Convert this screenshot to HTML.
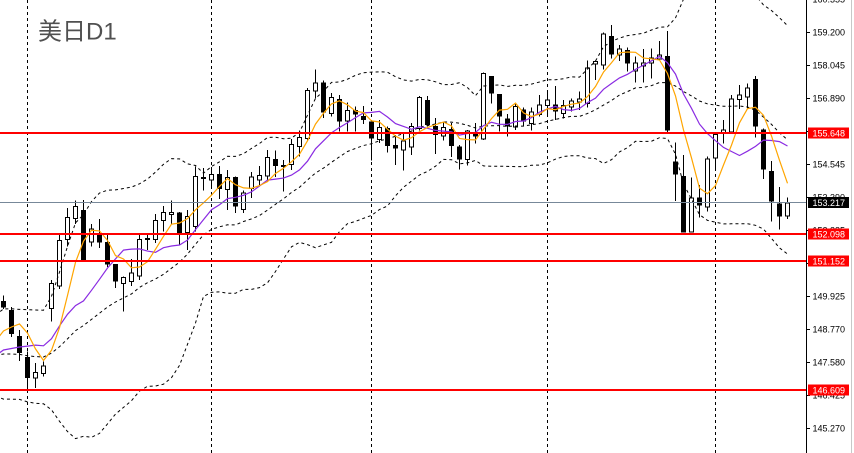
<!DOCTYPE html>
<html><head><meta charset="utf-8">
<style>
html,body{margin:0;padding:0;background:#fff;}
body{width:854px;height:453px;overflow:hidden;position:relative;}
svg{position:absolute;left:0;top:0;}
.ax{font-family:"Liberation Sans",sans-serif;font-size:9px;fill:#000;}
.lb{font-family:"Liberation Sans",sans-serif;font-size:9px;fill:#fff;}
.ttl{font-family:"Liberation Sans","Noto Sans CJK SC",sans-serif;font-size:24px;fill:#505050;}
</style></head><body>
<svg id="c" width="854" height="453" viewBox="0 0 854 453" xmlns="http://www.w3.org/2000/svg">
<defs><clipPath id="clp"><rect x="0" y="0" width="806" height="453"/></clipPath></defs>
<rect x="0" y="0" width="854" height="453" fill="#fff"/>
<g stroke="#000" stroke-width="1" stroke-dasharray="3,3">
<line x1="27.5" y1="0" x2="27.5" y2="453"/>
<line x1="211.5" y1="0" x2="211.5" y2="453"/>
<line x1="371.5" y1="0" x2="371.5" y2="453"/>
<line x1="547.5" y1="0" x2="547.5" y2="453"/>
<line x1="715.5" y1="0" x2="715.5" y2="453"/>
</g>
<g id="candles" shape-rendering="crispEdges"></g>
<g id="ind" fill="none" clip-path="url(#clp)"></g>
<rect x="0" y="202" width="806" height="1" fill="#778899"/>
<rect x="0" y="132" width="806" height="2" fill="#ff0000"/>
<rect x="0" y="233" width="806" height="2" fill="#ff0000"/>
<rect x="0" y="260" width="806" height="2" fill="#ff0000"/>
<rect x="0" y="389" width="806" height="2" fill="#ff0000"/>
<text class="ttl" x="38" y="39.5">美日D1</text>
<rect x="806" y="0" width="1" height="453" fill="#000"/>
<rect x="851" y="0" width="1" height="453" fill="#c8c8c8"/>
<g stroke="#000" stroke-width="1" shape-rendering="crispEdges">
<line x1="806" y1="32.5" x2="810" y2="32.5"/>
<line x1="806" y1="65.5" x2="810" y2="65.5"/>
<line x1="806" y1="98.5" x2="810" y2="98.5"/>
<line x1="806" y1="131.5" x2="810" y2="131.5"/>
<line x1="806" y1="164.5" x2="810" y2="164.5"/>
<line x1="806" y1="197.5" x2="810" y2="197.5"/>
<line x1="806" y1="230.5" x2="810" y2="230.5"/>
<line x1="806" y1="263.5" x2="810" y2="263.5"/>
<line x1="806" y1="296.5" x2="810" y2="296.5"/>
<line x1="806" y1="329.5" x2="810" y2="329.5"/>
<line x1="806" y1="362.5" x2="810" y2="362.5"/>
<line x1="806" y1="395.5" x2="810" y2="395.5"/>
<line x1="806" y1="428.5" x2="810" y2="428.5"/>
</g>
<text class="ax" x="812.5" y="2.5">160.355</text>
<text class="ax" x="812.5" y="35.5">159.200</text>
<text class="ax" x="812.5" y="68.5">158.045</text>
<text class="ax" x="812.5" y="101.5">156.890</text>
<text class="ax" x="812.5" y="134.5">155.735</text>
<text class="ax" x="812.5" y="167.5">154.545</text>
<text class="ax" x="812.5" y="200.5">153.390</text>
<text class="ax" x="812.5" y="233.5">152.235</text>
<text class="ax" x="812.5" y="266.5">151.080</text>
<text class="ax" x="812.5" y="299.5">149.925</text>
<text class="ax" x="812.5" y="332.5">148.770</text>
<text class="ax" x="812.5" y="365.5">147.580</text>
<text class="ax" x="812.5" y="398.5">146.425</text>
<text class="ax" x="812.5" y="431.5">145.270</text>
<rect x="808" y="127.5" width="41" height="11" fill="#ff0000"/>
<text class="lb" x="812.5" y="136.3">155.648</text>
<rect x="808" y="197" width="41" height="11" fill="#000"/>
<text class="lb" x="812.5" y="205.8">153.217</text>
<rect x="808" y="228.5" width="41" height="11" fill="#ff0000"/>
<text class="lb" x="812.5" y="237.3">152.098</text>
<rect x="808" y="255.5" width="41" height="11" fill="#ff0000"/>
<text class="lb" x="812.5" y="264.3">151.152</text>
<rect x="808" y="384.5" width="41" height="11" fill="#ff0000"/>
<text class="lb" x="812.5" y="393.3">146.609</text>
</svg>
<script>
(function(){
var NS="http://www.w3.org/2000/svg";
// type: 1 white, 0 black, 2 doji ; bodyTop, bodyBot, wickTop, wickBot
var D=[
[0,301,307.7,295.7,309],[0,310,334,307,337],[0,336,353,330,361],[0,357,378,351.7,389],
[1,372,378.7,363,388],[1,365.7,374,361.7,376.7],[1,283,309,280,321.7],[1,240,286.7,233,289],
[1,217,240,208,246.7],[1,206,219,200.7,224],[0,210,260,200,260],[1,228.7,242.7,224,246.7],
[0,233,242.7,219,248],[0,242,264.7,233,267],[0,264,281.7,264,288],[1,277,284,276.7,311.7],
[1,272.7,282,259,286],[1,239,276.7,233,280],[2,238,240,233,250],[1,220,240,214,243],
[1,212,221,206,231.7],[1,212,215,200.7,224],[0,212.7,233,212,245],[1,216,233,210,250],
[1,176,227,166.7,231.7],[2,177,179,168,190.7],[1,174,180.7,167,189],[0,174,189,166,199],
[1,177,190,170,210],[0,177,206.7,176.7,213],[1,192.7,210,190.7,213],[1,176.7,189,172,198],
[1,175,180.7,166,186.7],[1,157,176.7,150,181.7],[0,159,166,150.7,177],[0,165,167,160,191.7],
[1,144,165,139,170],[1,137,147,130.7,156.7],[1,90,139,88,140.7],[1,82.7,91.7,69.3,98.3],
[0,82.7,112.7,80.7,118],[1,97,114,93,116.7],[0,99,121.7,95,131.7],[1,110,121.7,102.7,131.7],
[0,110,114.3,106.7,131.7],[0,116,120,106,124],[0,121.7,138.7,121.7,160.7],[1,127,140,120,143],
[0,128,146,126.7,152.7],[0,145,148.7,135,165],[1,140.7,150.7,133,170.7],[1,126,147.3,123,155],
[1,97,129,96,130.7],[0,100,125,96,126.7],[0,126,135,118,154],[1,127,136.7,121.7,140.7],
[0,129,146,123,157],[0,146.7,159.3,145,169.3],[1,130.7,160,130,165.3],[0,134,136.7,123,143.3],
[1,73,139.3,72.7,140],[0,76,93.3,76,103.3],[0,94,116.7,94,131.7],[0,118.3,126.7,114,136.7],
[1,106,127.3,103.3,130],[0,109.3,121.7,107.3,126.7],[1,111.7,124,107.3,130.7],[1,104.3,115,95,116.7],
[1,99.3,106,90.7,114],[0,104.3,111.7,86,120],[1,105,114,100,118.3],[1,100.7,107.3,98.3,111.7],
[1,98.3,102.7,91.7,110],[1,67.3,104,60.7,107.3],[1,61,64.3,60.7,80],[1,33.3,65.5,32.7,69.3],
[0,36,54.3,25,58.3],[1,48.3,55.7,45,61],[0,50,63.3,47.7,71.7],[1,62.3,71.7,56.7,82.3],
[1,62.3,66.7,49,82.3],[1,57.7,63.3,48.3,78.3],[1,54.3,59.3,41,59.3],[0,56,130.7,31,133.3],
[0,161.7,174.3,142.3,201],[0,176,232.3,155,232.3],[1,197.7,232.3,177.7,232.3],[0,197.3,205.7,185,217.7],
[1,158.3,207.7,156.7,211.7],[1,134,158.3,132,170],[1,129.3,134,120,143.3],[1,98.3,132.3,95,132.3],
[1,94.3,100,85,109],[1,87.7,97.7,83.3,108.3],[0,79,126.7,76,137.7],[0,129.3,169.3,128.3,179],
[0,171,201.7,161,221.7],[0,203.3,216.3,187,229.3],[1,202.3,216.7,197.7,219]
];
var g=document.getElementById('candles');
function el(n,a,p){var e=document.createElementNS(NS,n);for(var k in a)e.setAttribute(k,a[k]);p.appendChild(e);return e;}
var closes=[];
for(var i=0;i<D.length;i++){
  var d=D[i],px=3+8*i;
  el('rect',{x:px,y:d[3],width:1,height:Math.max(d[4]-d[3],1),fill:'#000'},g);
  if(d[0]===0){
    el('rect',{x:px-2,y:d[1],width:5,height:Math.max(d[2]-d[1],1),fill:'#000'},g);
    closes.push(d[2]);
  }else if(d[0]===1){
    el('rect',{x:px-1.5,y:d[1]+0.5,width:4,height:Math.max(d[2]-d[1]-1,1),fill:'#fff',stroke:'#000','stroke-width':1},g);
    closes.push(d[1]);
  }else{
    el('rect',{x:px-2,y:d[1],width:5,height:Math.max(d[2]-d[1],1),fill:'#000'},g);
    closes.push(d[1]);
  }
}
var pre=[340,335,345,350,355,357.4,362,368,372,370,365.6,349,368,387.7,382,358.7,354,368,332.7,292.6];
var all=pre.concat(closes),off=pre.length;
function sma(k,n){var s=0;for(var j=k-n+1;j<=k;j++)s+=all[j];return s/n;}
function sd(k,n,m){var s=0;for(var j=k-n+1;j<=k;j++){var v=all[j]-m;s+=v*v;}return Math.sqrt(s/n);}
var p5='',p10='',pu='',pm='',pl='';
for(var k=off-1;k<all.length;k++){
  var x=(3.5+8*(k-off)).toFixed(1);
  var c=(k===off-1)?'M':'L';
  var m20=sma(k,20),s=sd(k,20,m20);
  p5+=c+x+','+sma(k,5).toFixed(1)+' ';
  p10+=c+x+','+sma(k,10).toFixed(1)+' ';
  pm+=c+x+','+m20.toFixed(1)+' ';
  pu+=c+x+','+(m20-2*s).toFixed(1)+' ';
  pl+=c+x+','+(m20+2*s).toFixed(1)+' ';
}
var ind=document.getElementById('ind');
el('path',{d:pu,stroke:'#000','stroke-width':1,'stroke-dasharray':'3,3'},ind);
el('path',{d:pm,stroke:'#000','stroke-width':1,'stroke-dasharray':'3,3'},ind);
el('path',{d:pl,stroke:'#000','stroke-width':1,'stroke-dasharray':'3,3'},ind);
el('path',{d:p10,stroke:'#8a2be2','stroke-width':1.2},ind);
el('path',{d:p5,stroke:'#ffa500','stroke-width':1.2},ind);
})();
</script>
</body></html>
